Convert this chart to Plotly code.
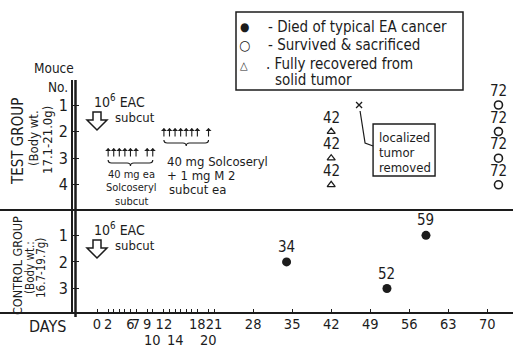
import plotly.graph_objects as go

# ---------------- data ----------------
# Test group (mouse number -> day of outcome)
recovered_days = [42, 42, 42]
recovered_mice = [2, 3, 4]
survived_days = [72, 72, 72, 72]
survived_mice = [1, 2, 3, 4]
removed_days = [47]
removed_mice = [1]

# Control group
control_died_days = [34, 52, 59]
control_died_mice = [2, 3, 1]

# Treatment schedule (days)
eac_day = 0
solco_days = [2, 3, 4, 5, 6, 7, 9, 10]
solco_m2_days = [12, 13, 14, 15, 16, 17, 18, 20]

# Day axis
day_ticks = [0, 2, 3, 4, 5, 6, 7, 9, 10, 12, 13, 14, 15, 16, 17, 18, 20, 21,
             28, 35, 42, 49, 56, 63, 70]
day_labels_main = [0, 2, 6, 7, 9, 12, 18, 21, 28, 35, 42, 49, 56, 63, 70]
day_labels_low = [10, 14, 20]

test_mice = [1, 2, 3, 4]
control_mice = [1, 2, 3]

# ---------------- layout geometry ----------------
W, H = 513, 349
ML, MR, MT, MB = 73, 0, 80, 36
PW, PH = W - ML - MR, H - MT - MB
X0_PX, PX_PER_DAY = 97.0, 5.576        # pixel of day 0, pixels per day
ROW1_PX, PX_PER_ROW = 105.0, 26.6      # pixel of test mouse 1, pixels per row
CONTROL_OFFSET = 4.9                   # control rows sit below the test rows

X_RANGE = [(ML - X0_PX) / PX_PER_DAY, (W - MR - X0_PX) / PX_PER_DAY]
Y_RANGE = [1 + (MT + PH - ROW1_PX) / PX_PER_ROW, 1 + (MT - ROW1_PX) / PX_PER_ROW]

FONT = "DejaVu Sans Condensed, Liberation Sans Narrow, sans-serif"
INK = "#1c1c1c"


def pxx(x):
    return (x - ML) / PW


def pxy(y):
    return 1 - (y - MT) / PH


def row_at(y):
    return 1 + (y - ROW1_PX) / PX_PER_ROW


def ctrl(m):
    return m + CONTROL_OFFSET


def text(t, x, y, size, xanchor="center", **kw):
    return dict(text=t, x=pxx(x), y=pxy(y), xref="paper", yref="paper",
                showarrow=False, xanchor=xanchor, yanchor="middle",
                font=dict(family=FONT, size=size, color=INK), **kw)


def point_label(t, x, y, size=15, shift=14):
    return dict(text=t, x=x, y=y, xref="x", yref="y", showarrow=False,
                yshift=shift, font=dict(family=FONT, size=size, color=INK))


fig = go.Figure()

# outcome markers
fig.add_trace(go.Scatter(
    x=recovered_days, y=recovered_mice, mode="markers",
    marker=dict(symbol="triangle-up-open", size=7, color=INK, line=dict(width=1.3)),
    hoverinfo="skip", showlegend=False, cliponaxis=False))
fig.add_trace(go.Scatter(
    x=survived_days, y=survived_mice, mode="markers",
    marker=dict(symbol="circle-open", size=8, color=INK, line=dict(width=1.6)),
    hoverinfo="skip", showlegend=False, cliponaxis=False))
fig.add_trace(go.Scatter(
    x=removed_days, y=removed_mice, mode="markers",
    marker=dict(symbol="x-thin-open", size=6, color=INK, line=dict(width=1.3)),
    hoverinfo="skip", showlegend=False, cliponaxis=False))
fig.add_trace(go.Scatter(
    x=control_died_days, y=[ctrl(m) for m in control_died_mice], mode="markers",
    marker=dict(symbol="circle", size=9, color=INK),
    hoverinfo="skip", showlegend=False))

annotations = []

# value labels above the markers
for d, m in zip(recovered_days, recovered_mice):
    annotations.append(point_label(str(d), d, m))
for d, m in zip(survived_days, survived_mice):
    annotations.append(point_label(str(d), d, m))
for d, m in zip(control_died_days, control_died_mice):
    annotations.append(point_label(str(d), d, ctrl(m), shift=15))

# second row of day labels, below the first
for d in day_labels_low:
    annotations.append(dict(text=str(d), x=d, y=pxy(340), xref="x", yref="paper",
                            showarrow=False, yanchor="middle",
                            font=dict(family=FONT, size=14.5, color=INK)))

# injection arrows
for days, head_px in ((solco_days, 148), (solco_m2_days, 128)):
    for d in days:
        annotations.append(dict(x=d, y=row_at(head_px), xref="x", yref="y",
                                text="", showarrow=True, ax=0, ay=10,
                                arrowhead=1, arrowsize=0.9, arrowwidth=1.1,
                                arrowcolor=INK))

# group titles, rotated
annotations += [
    text("TEST GROUP", 18, 142, 15, textangle=-90),
    text("(Body wt.", 33, 138, 13, textangle=-90),
    text("17.1-21.0g)", 47, 140, 13, textangle=-90),
    text("CONTROL GROUP", 17, 266, 12.5, textangle=-90),
    text("(Body wt.:", 30, 268, 11.5, textangle=-90),
    text("16.7-19.7g)", 41, 268, 11.5, textangle=-90),
    text("Mouce", 54, 68, 13.5),
    text("No.", 58, 87, 13.5),
    text("DAYS", 47, 326, 16),
]

# tumour inoculation notes
for top in (101, 229):
    annotations.append(text("10<sup>6</sup> EAC", 92, top, 14, xanchor="left"))
    annotations.append(text("subcut", 113, top + 16, 13, xanchor="left"))

# treatment notes
annotations += [
    text("40 mg ea", 131, 174, 11),
    text("Solcoseryl", 131, 187, 11),
    text("subcut", 131, 201, 11),
    text("40 mg Solcoseryl", 165, 161, 13, xanchor="left"),
    text("+ 1 mg M 2", 165, 175, 13, xanchor="left"),
    text("subcut ea", 167, 189, 13, xanchor="left"),
]

# tumour-removed note
for i, note in enumerate(["localized", "tumor", "removed"]):
    annotations.append(dict(text=note, x=removed_days[0], y=removed_mice[0],
                            xref="x", yref="y", showarrow=False,
                            xanchor="left", yanchor="middle",
                            xshift=18, yshift=-(32 + 15 * i),
                            font=dict(family=FONT, size=13, color=INK)))

# key
annotations += [
    text("●", 244, 27, 12),
    text("○", 244, 45, 14),
    text("△", 244, 66, 11),
    text("- Died of typical EA cancer", 266, 27, 15, xanchor="left"),
    text("- Survived & sacrificed", 266, 45, 15, xanchor="left"),
    text(". Fully recovered from", 264, 64, 15, xanchor="left"),
    text("solid tumor", 273, 80, 15, xanchor="left"),
]

axis_line = dict(color=INK, width=2)
shapes = [
    # day axis and group divider, running to the left edge
    dict(type="line", xref="paper", yref="paper", x0=pxx(0), x1=1,
         y0=0, y1=0, line=axis_line),
    dict(type="line", xref="paper", yref="y", x0=pxx(0), x1=1,
         y0=row_at(210), y1=row_at(210), line=axis_line),
    # mouse axis, just inside the plotting area
    dict(type="line", xref="paper", yref="paper", layer="above",
         x0=pxx(ML + 2.5), x1=pxx(ML + 2.5), y0=pxy(MT), y1=pxy(MT + PH + 4),
         line=dict(color=INK, width=2.5)),
    # key box
    dict(type="rect", xref="paper", yref="paper", x0=pxx(236), x1=pxx(463),
         y0=pxy(12), y1=pxy(90), line=dict(color=INK, width=1.5)),
]

# hollow inoculation arrows
arrow_path = "M -4,9 L 4,9 L 4,1 L 10,1 L 0,-9 L -10,1 L -4,1 Z"
for y_px in (121, 249):
    shapes.append(dict(type="path", xref="x", yref="y",
                       xsizemode="pixel", ysizemode="pixel",
                       xanchor=eac_day, yanchor=row_at(y_px),
                       path=arrow_path, line=dict(color=INK, width=1.5)))


# curly braces under each injection series
def brace(days, y_px):
    a, b = min(days), max(days)
    m = (a + b) / 2
    e = 0.6
    p = (f"M {a},3 Q {a},0 {a + e},0 L {m - e},0 Q {m},0 {m},-3 "
         f"Q {m},0 {m + e},0 L {b - e},0 Q {b},0 {b},3")
    return dict(type="path", xref="x", yref="y", ysizemode="pixel",
                yanchor=row_at(y_px), path=p, line=dict(color=INK, width=1.2))


shapes.append(brace(solco_days, 163))
shapes.append(brace(solco_m2_days, 143))

# box and leader for the removed tumour
shapes.append(dict(type="rect", xref="x", yref="y", xsizemode="pixel",
                   ysizemode="pixel", xanchor=removed_days[0],
                   yanchor=removed_mice[0], x0=14, x1=76, y0=-19, y1=-71,
                   line=dict(color=INK, width=1.4)))
shapes.append(dict(type="path", xref="x", yref="y", xsizemode="pixel",
                   ysizemode="pixel", xanchor=removed_days[0],
                   yanchor=removed_mice[0],
                   path="M 1,-6 L 6,-38 L 14,-41",
                   line=dict(color=INK, width=1.2)))

main_text = [str(d) if d in day_labels_main else "" for d in day_ticks]

fig.update_layout(
    width=W, height=H,
    margin=dict(l=ML, r=MR, t=MT, b=MB),
    paper_bgcolor="white", plot_bgcolor="white",
    showlegend=False,
    xaxis=dict(range=X_RANGE, showgrid=False, zeroline=False, showline=False,
               tickmode="array", tickvals=day_ticks, ticktext=main_text,
               ticks="inside", ticklen=4, tickwidth=1.2, tickcolor=INK,
               tickangle=0, tickfont=dict(family=FONT, size=14.5, color=INK)),
    yaxis=dict(range=Y_RANGE, showgrid=False, zeroline=False,
               showline=True, linewidth=2, linecolor=INK,
               tickmode="array",
               tickvals=test_mice + [ctrl(m) for m in control_mice],
               ticktext=[str(m) for m in test_mice] + [str(m) for m in control_mice],
               ticks="inside", ticklen=6, tickwidth=1.3, tickcolor=INK,
               tickfont=dict(family=FONT, size=16, color=INK)),
    annotations=annotations,
    shapes=shapes,
)

fig.write_html("out.html")
